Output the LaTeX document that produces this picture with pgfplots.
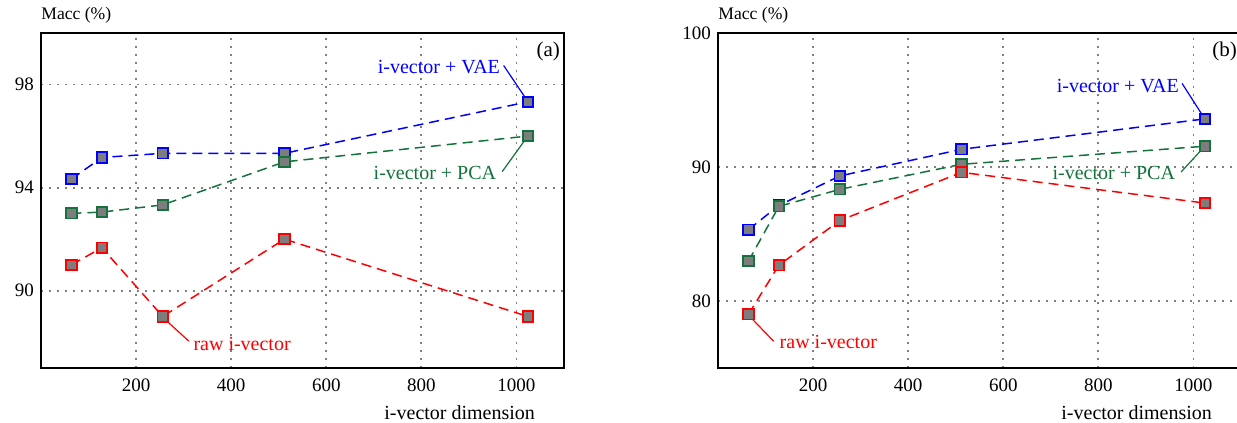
\documentclass[border=0pt]{standalone}
\usepackage{fontspec}
\setmainfont{Liberation Serif}
\usepackage{pgfplots}
\pgfplotsset{compat=1.18}
\definecolor{vaeblue}{RGB}{0,0,255}
\definecolor{pcagreen}{RGB}{20,115,60}
\definecolor{rawred}{RGB}{255,0,0}
\definecolor{markgray}{RGB}{125,125,125}

\pgfplotsset{
  panel/.style={
    scale only axis, width=261.5pt, height=167.5pt,
    xmin=0, xmax=1100, xtick={200,400,600,800,1000},
    grid=major,
    major grid style={gray, line width=0.9pt, dash pattern=on 0.9pt off 3.1pt},
    major tick length=0pt,
    axis line style={line width=0.8pt},
    tick label style={font=\fontsize{9.5}{11}\selectfont},
    /pgf/number format/assume math mode=true,
    /pgf/number format/1000 sep={},
    xticklabel style={yshift=-2pt},
    xlabel={i-vector dimension},
    xlabel style={at={(axis description cs:1,0)}, anchor=east,
      xshift=-11pt, yshift=-22.5pt, font=\fontsize{10}{12}\selectfont},
    clip=false,
  },
  ser/.style={color=#1, line width=0.75pt, dash pattern=on 5pt off 3pt,
    mark=square*, mark size=2.6pt,
    mark options={solid, fill=markgray, draw=#1, line width=0.9pt}},
}
\tikzset{
  lbl/.style={font=\fontsize{10}{12}\selectfont, inner sep=0pt},
  ylab/.style={font=\fontsize{8.8}{10}\selectfont, inner sep=0pt, anchor=west},
}

\begin{document}
\begin{tikzpicture}
% ---- panel (a) ----
\begin{axis}[panel, at={(20.5pt,27.5pt)}, anchor=south west,
  ymin=87, ymax=100, ytick={90,94,98}]
\addplot[ser=vaeblue] coordinates {(64,94.33) (128,95.17) (256,95.33) (512,95.33) (1024,97.33)};
\addplot[ser=pcagreen] coordinates {(64,93.0) (128,93.05) (256,93.33) (512,95.0) (1024,96.0)};
\addplot[ser=rawred] coordinates {(64,91.0) (128,91.67) (256,89.0) (512,92.0) (1024,89.0)};
\node[lbl, anchor=east, vaeblue] at (axis cs:966,98.66) {i-vector + VAE};
\draw[vaeblue, line width=0.6pt] (axis cs:973,98.74) -- (axis cs:1020,97.45);
\node[lbl, anchor=east, pcagreen] at (axis cs:958,94.58) {i-vector + PCA};
\draw[pcagreen, line width=0.6pt] (axis cs:970,94.62) -- (axis cs:1020,95.9);
\node[lbl, anchor=west, rawred] at (axis cs:320,87.94) {raw i-vector};
\draw[rawred, line width=0.6pt] (axis cs:260,88.9) -- (axis cs:311,88.04);
\node[lbl, anchor=north east, font=\fontsize{10.5}{12}\selectfont] at (rel axis cs:0.993,0.975) {(a)};
\node[ylab] at ([yshift=9pt]rel axis cs:0,1) {Macc (\%)};
\end{axis}
% ---- panel (b) ----
\begin{axis}[panel, at={(359pt,27.5pt)}, anchor=south west,
  ymin=75, ymax=100, ytick={80,90,100}]
\addplot[ser=vaeblue] coordinates {(64,85.32) (128,87.13) (256,89.33) (512,91.32) (1024,93.59)};
\addplot[ser=pcagreen] coordinates {(64,82.97) (128,87.06) (256,88.33) (512,90.2) (1024,91.55)};
\addplot[ser=rawred] coordinates {(64,79.0) (128,82.67) (256,86.0) (512,89.6) (1024,87.31)};
\node[lbl, anchor=east, vaeblue] at (axis cs:970,96.04) {i-vector + VAE};
\draw[vaeblue, line width=0.6pt] (axis cs:976,96.24) -- (axis cs:1020,93.8);
\node[lbl, anchor=east, pcagreen] at (axis cs:962,89.55) {i-vector + PCA};
\draw[pcagreen, line width=0.6pt] (axis cs:974,89.63) -- (axis cs:1020,91.4);
\node[lbl, anchor=west, rawred] at (axis cs:129,76.91) {raw i-vector};
\draw[rawred, line width=0.6pt] (axis cs:68,78.8) -- (axis cs:117,77.0);
\node[lbl, anchor=north east, font=\fontsize{10.5}{12}\selectfont] at (rel axis cs:0.993,0.975) {(b)};
\node[ylab] at ([yshift=9pt]rel axis cs:0,1) {Macc (\%)};
\end{axis}
\pgfresetboundingbox
\useasboundingbox (0,0) rectangle (618.5pt,211.5pt);
\end{tikzpicture}
\end{document}
